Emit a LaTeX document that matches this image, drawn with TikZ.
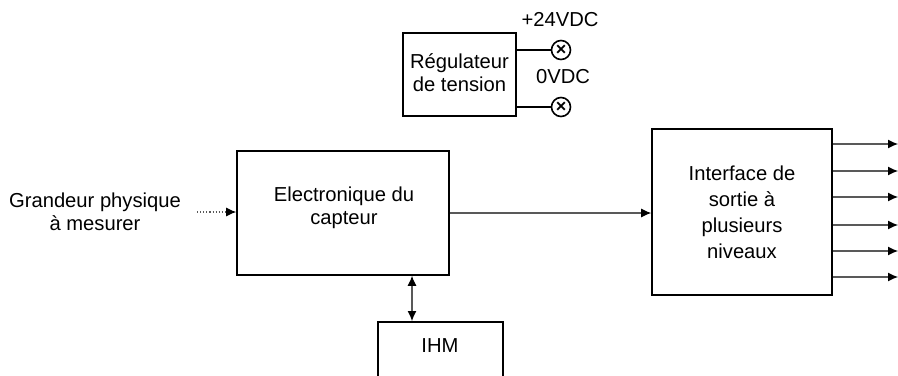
\documentclass[tikz,border=0pt]{standalone}
\usepackage{fontspec}
\setmainfont{Liberation Sans}
\usetikzlibrary{arrows.meta}
\begin{document}
\begin{tikzpicture}[x=0.5pt,y=-0.5pt,
  every node/.style={font=\fontsize{10.1pt}{11.5pt}\selectfont},
  box/.style={draw, line width=0.8pt, inner sep=0pt, align=center},
  lbl/.style={align=center, inner sep=0pt},
  tip/.tip={Latex[length=5pt,width=4.5pt,color=black]},
  conn/.style={draw=black!65, line width=0.55pt, -tip},
  wire/.style={draw, line width=0.7pt},
  term/.style={circle, draw, line width=0.8pt, minimum size=9.5pt, inner sep=0pt}
]
\useasboundingbox (0,0) rectangle (898,375);
\clip (0,0) rectangle (898,375);

% Regulateur
\node[box, minimum width=56.5pt, minimum height=41.5pt] (reg) at (459.5,74.5) {};
\node[lbl] (regt) at (459.5,73) {Régulateur\\de tension};
\node[term] (t1) at (561,50) {};
\node[term] (t2) at (561,107) {};
\node at (t1) {\fontsize{9pt}{9pt}\selectfont\textbf{×}};
\node at (t2) {\fontsize{9pt}{9pt}\selectfont\textbf{×}};
\draw[wire] (reg.east |- t1) -- (t1.west);
\draw[wire] (reg.east |- t2) -- (t2.west);
\node[lbl] (v24) at (560,20) {+24VDC};
\node[lbl] (v0) at (563,77) {0VDC};

% Electronique
\node[box, minimum width=106pt, minimum height=62pt] (elec) at (343,213) {};
\node[lbl] (elect) at (344,208) {Electronique du\\capteur};

% Input
\node[lbl] (gp) at (95,212) {Grandeur physique\\à mesurer};
\coordinate (in) at (197,212);
\draw[conn, densely dotted] (in) -- (elec.west |- in);

% Interface
\node[box, minimum width=90pt, minimum height=83pt, font=\fontsize{10.1pt}{13pt}\selectfont] (intf) at (742,212) {Interface de\\sortie à\\plusieurs\\niveaux};
\draw[conn] (elec.east |- 0,213) -- (intf.west |- 0,213);

% Outputs
\foreach \yy [count=\i] in {144,171,197,225,251,277} {
  \coordinate (o\i) at (898,\yy);
  \draw[conn] (intf.east |- o\i) -- (o\i);
}

% IHM
\node[box, minimum width=62.5pt, minimum height=40pt, anchor=north west] (ihm) at (377,321) {};
\node[lbl] (ihmt) at (440,346) {IHM};
\draw[conn, tip-tip] (elec.south -| 412,0) -- (ihm.north -| 412,0);
\end{tikzpicture}
\end{document}
